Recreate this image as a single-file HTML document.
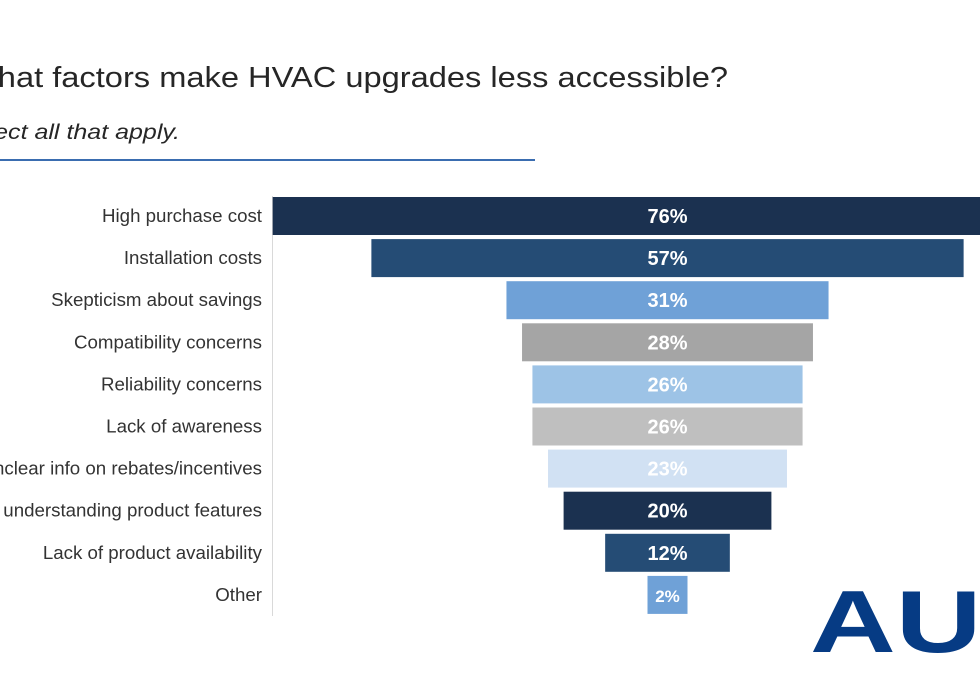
<!DOCTYPE html>
<html><head><meta charset="utf-8"><style>
html,body{margin:0;padding:0;background:#fff;overflow:hidden}
svg{display:block;font-family:"Liberation Sans",sans-serif}
</style></head><body>
<svg id="chart" width="980" height="699" viewBox="0 0 980 699">
<text x="-33" y="87" textLength="761" lengthAdjust="spacingAndGlyphs" font-size="29" fill="#262626">What factors make HVAC upgrades less accessible?</text>
<text x="-42" y="139" textLength="222" lengthAdjust="spacingAndGlyphs" font-size="21" font-style="italic" fill="#262626">Select all that apply.</text>
<rect x="0" y="159" width="535" height="2" fill="#3a6db0"/>
<line x1="272.5" y1="196" x2="272.5" y2="616" stroke="#d9d9d9" stroke-width="1"/>
<g id="bars"></g>
<text x="0" y="0" font-size="88" font-weight="bold" fill="#063b84" transform="translate(810,652) scale(1.35,1)">AU</text>
</svg>
<script>
const categories = ["High purchase cost","Installation costs","Skepticism about savings","Compatibility concerns","Reliability concerns","Lack of awareness","Unclear info on rebates/incentives","Lack of understanding product features","Lack of product availability","Other"];
const values = [76,57,31,28,26,26,23,20,12,2];
const colors = ["#1b3150","#254c75","#6fa1d7","#a5a5a5","#9dc3e6","#bfbfbf","#d1e1f3","#1b3150","#254c75","#6fa1d7"];
const cx = 667.5, pxPer = 10.39, top0 = 197, step = 42.1, barH = 38;
function x(v){ return Math.max(v*pxPer, 40); }
function y(i){ return top0 + i*step; }
const g = document.getElementById('bars');
const NS = 'http://www.w3.org/2000/svg';
categories.forEach((c,i)=>{
  const w = x(values[i]);
  const r = document.createElementNS(NS,'rect');
  r.setAttribute('x', cx - w/2); r.setAttribute('y', y(i));
  r.setAttribute('width', w); r.setAttribute('height', barH);
  r.setAttribute('fill', colors[i]);
  
  
  g.appendChild(r);
  const t = document.createElementNS(NS,'text');
  t.setAttribute('x', cx); t.setAttribute('y', y(i)+barH/2+7);
  t.setAttribute('text-anchor','middle'); t.setAttribute('fill','#fff');
  t.setAttribute('font-size', values[i] < 5 ? '17' : '20');
  t.setAttribute('font-weight','bold');
  t.textContent = values[i] + '%';
  
  
  g.appendChild(t);
  const l = document.createElementNS(NS,'text');
  l.setAttribute('x', 262); l.setAttribute('y', y(i)+barH/2+6);
  l.setAttribute('text-anchor','end'); l.setAttribute('fill','#333');
  l.setAttribute('font-size','18.7');
  l.textContent = c;
  
  
  g.appendChild(l);
});
</script>
</body></html>
